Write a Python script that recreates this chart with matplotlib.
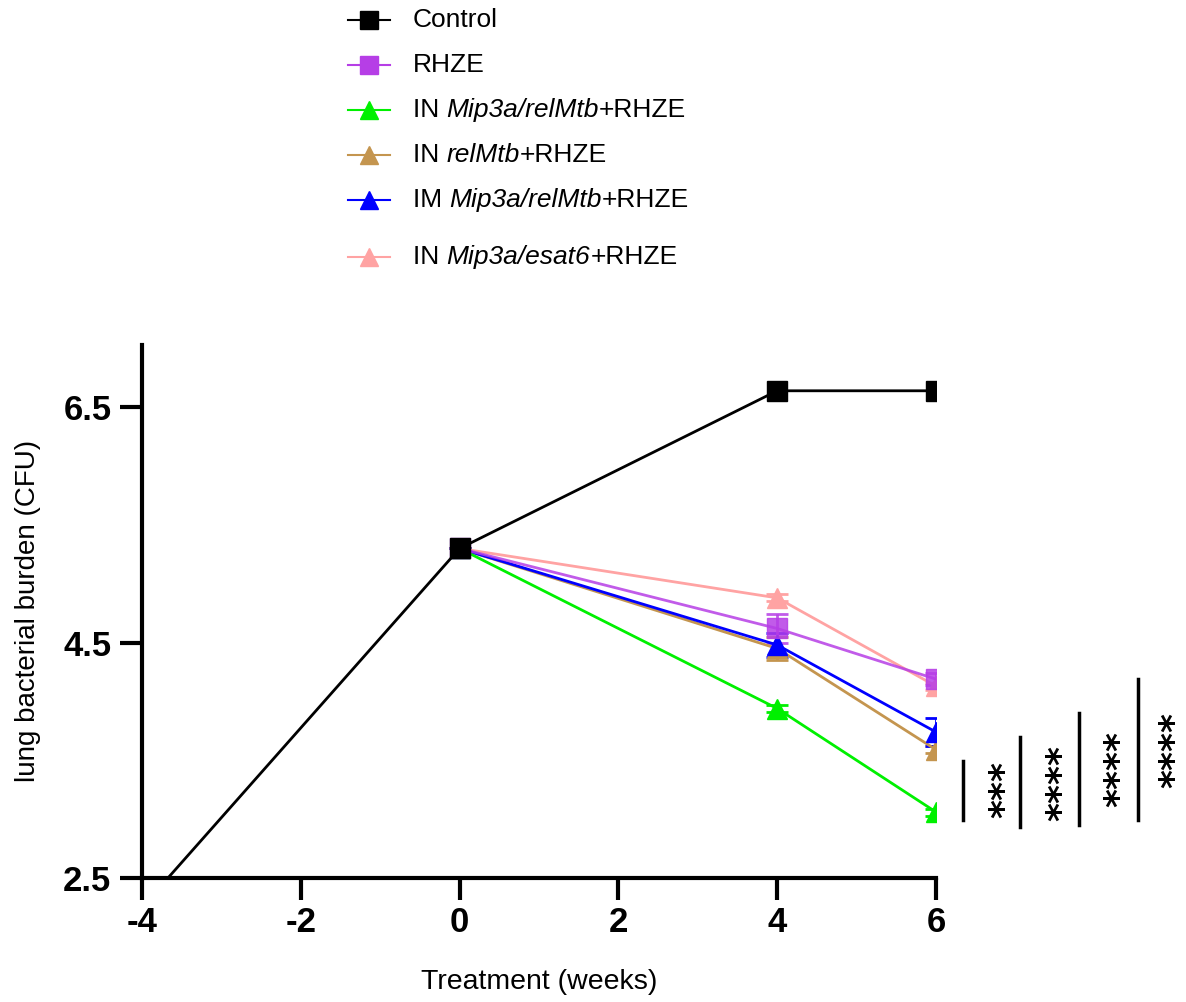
import matplotlib
matplotlib.use("Agg")
import matplotlib.pyplot as plt
from matplotlib.lines import Line2D

plt.rcParams["font.family"] = ["Liberation Sans", "DejaVu Sans"]
plt.rcParams["axes.unicode_minus"] = False

# data
weeks = [-4, 0, 4, 6]
weeks_tx = [0, 4, 6]
control = [2.25, 5.30, 6.64, 6.64]
rhze = [5.30, 4.62, 4.19]
rhze_err = [0, 0.12, 0.05]
in_mip_rel = [5.30, 3.94, 3.06]
in_mip_rel_err = [0, 0.03, 0.03]
in_rel = [5.30, 4.45, 3.59]
in_rel_err = [0, 0.1, 0.03]
im_mip_rel = [5.30, 4.48, 3.74]
im_mip_rel_err = [0, 0.1, 0.12]
in_mip_esat = [5.30, 4.88, 4.13]
in_mip_esat_err = [0, 0.03, 0.03]

# legend labels as (text, italic) pieces
labels = [[("Control", False)],
          [("RHZE", False)],
          [("IN ", False), ("Mip3a/relMtb", True), ("+RHZE", False)],
          [("IN ", False), ("relMtb", True), ("+RHZE", False)],
          [("IM ", False), ("Mip3a/relMtb", True), ("+RHZE", False)],
          [("IN ", False), ("Mip3a/esat6", True), ("+RHZE", False)]]
colors = ["black", "#B63EE6", "#00F000", "#C4954F", "#0000FF", "#FFA3A3"]
markers = ["s", "s", "^", "^", "^", "^"]

# significance brackets (x, y_low, y_high) and star labels (x, y, text)
sig_lines = [(6.34, 2.99, 3.49), (7.06, 2.93, 3.70), (7.80, 2.95, 3.90), (8.54, 2.99, 4.19)]
sig_stars = [(6.86, 3.25, "***"), (7.58, 3.31, "****"), (8.31, 3.43, "****"), (9.0, 3.59, "****")]

fig = plt.figure(figsize=(11.86, 10.02), dpi=100)
ax = fig.add_axes([0.1197, 0.1238, 0.6695, 0.532])

series = [(in_mip_esat, in_mip_esat_err, 5), (in_rel, in_rel_err, 3),
          (im_mip_rel, im_mip_rel_err, 4), (in_mip_rel, in_mip_rel_err, 2),
          (rhze, rhze_err, 1)]
for vals, err, i in series:
    ax.errorbar(weeks_tx, vals, yerr=err, color=colors[i], marker=markers[i],
                markersize=15, lw=2, capsize=8, capthick=2, elinewidth=2,
                alpha=0.85 if i == 1 else 1, zorder=3)
ax.plot(weeks, control, color="black", marker="s", markersize=15, lw=2, zorder=4)

ax.set_xlim(-4, 6)
ax.set_ylim(2.5, 7.03)
ax.set_xticks([-4, -2, 0, 2, 4, 6])
ax.set_yticks([2.5, 4.5, 6.5])
ax.set_yticklabels(["2.5", "4.5", "6.5"])
for lab in ax.get_xticklabels() + ax.get_yticklabels():
    lab.set_fontweight("bold")
    lab.set_fontsize(25)
ax.tick_params(width=3, length=16)
ax.tick_params(axis="x", pad=4)
ax.tick_params(axis="y", pad=6)
for s in ["top", "right"]:
    ax.spines[s].set_visible(False)
for s in ["left", "bottom"]:
    ax.spines[s].set_linewidth(3)

ax.set_xlabel("Treatment (weeks)", fontsize=20.5, labelpad=22)
ax.set_ylabel("lung bacterial burden (CFU)", fontsize=20, labelpad=16)

for x, y0, y1 in sig_lines:
    ax.plot([x, x], [y0, y1], color="black", lw=2.5, clip_on=False)
for x, y, t in sig_stars:
    ax.text(x, y, t, rotation=90, ha="center", va="center", fontsize=26,
            family="DejaVu Sans", fontweight="bold", clip_on=False)

# legend drawn at the top of the figure, italic pieces placed side by side
fig.canvas.draw()
renderer = fig.canvas.get_renderer()
leg_y = [20, 65, 110, 155, 200, 257]
for parts, c, m, py in zip(labels, colors, markers, leg_y):
    yf = 1 - py / 1002
    fig.add_artist(Line2D([348 / 1186, 390 / 1186], [yf, yf], color=c, lw=1.5,
                          transform=fig.transFigure))
    fig.add_artist(Line2D([369 / 1186], [yf], color=c, marker=m, markersize=13,
                          transform=fig.transFigure))
    x_px = 413
    for txt, it in parts:
        t = fig.text(x_px / 1186, yf, txt, fontsize=19, va="center", ha="left",
                     style="italic" if it else "normal")
        x_px += t.get_window_extent(renderer).width

fig.savefig("out.png", dpi=100)
